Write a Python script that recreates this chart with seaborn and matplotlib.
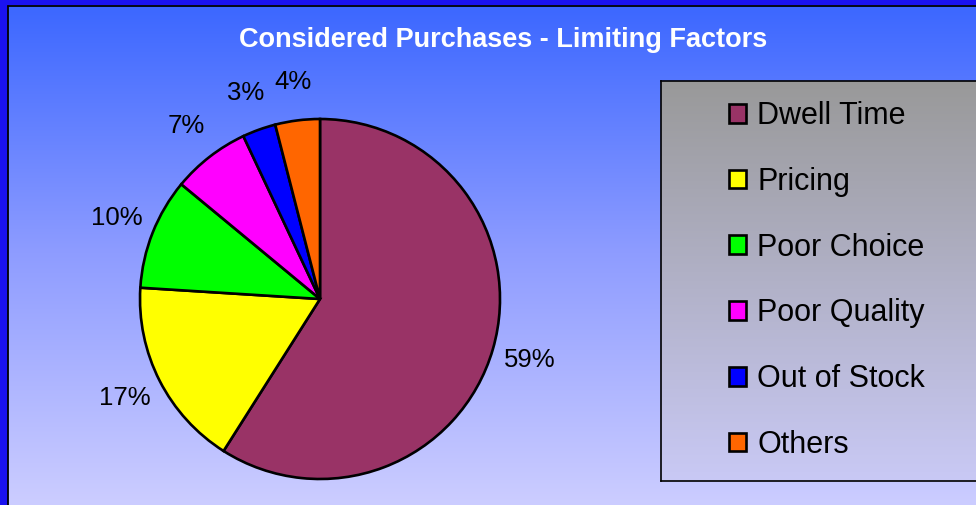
import numpy as np
import matplotlib
matplotlib.use("Agg")
import matplotlib.pyplot as plt
import seaborn as sns
from matplotlib.colors import LinearSegmentedColormap

# Survey shares of factors limiting considered purchases (percent)
categories = ["Dwell Time", "Pricing", "Poor Choice", "Poor Quality", "Out of Stock", "Others"]
shares = [59, 17, 10, 7, 3, 4]
slice_colors = ["#993366", "#FFFF00", "#00FF00", "#FF00FF", "#0000FF", "#FF6600"]
title_text = "Considered Purchases - Limiting Factors"

sns.set_theme(style="white")
plt.rcParams["font.family"] = ["Liberation Sans", "DejaVu Sans"]
plt.rcParams["text.color"] = "black"

W, H = 976, 505
fig = plt.figure(figsize=(W / 100, H / 100), dpi=100)

# Backdrop: vertical blue-to-lavender gradient with a blue frame on the left/top
bg = fig.add_axes([0, 0, 1, 1], zorder=-10)
bg.set_xlim(0, W)
bg.set_ylim(H, 0)
bg.axis("off")
bg_cmap = LinearSegmentedColormap.from_list("bg", ["#3a66ff", "#8e9cff", "#cccdff"])
grad = np.linspace(0, 1, 256).reshape(-1, 1)
bg.imshow(grad, cmap=bg_cmap, extent=[0, W, H, 0], aspect="auto", interpolation="bicubic")
bg.fill_between([0, 7.5], 0, H, color="#1a12f0", lw=0)
bg.fill_between([0, W], 0, 5.2, color="#1a12f0", lw=0)
bg.plot([8.2, 8.2], [6, H], color="black", lw=1.3)
bg.plot([8, W], [6, 6], color="black", lw=1.3)

fig.text(503 / W, 1 - 40 / H, title_text, color="white", fontsize=19.5,
         fontweight="bold", ha="center", va="center")

# Pie chart
ax = fig.add_axes([140 / W, (H - 479) / H, 360 / W, 360 / H])
wedges, _, pct_texts = ax.pie(
    shares, colors=slice_colors, startangle=90, counterclock=False,
    autopct=lambda p: f"{p:.0f}%", pctdistance=1.215,
    wedgeprops=dict(edgecolor="black", linewidth=1.9),
    textprops=dict(fontsize=18.5, color="black"),
)
ax.set_xlim(-1, 1)
ax.set_ylim(-1, 1)
ax.set_aspect("equal")
ax.axis("off")

# Legend panel with grey gradient fill
lax = fig.add_axes([661 / W, (H - 481) / H, (W - 661) / W + 0.02, 400 / H])
lax.set_xlim(0, 1)
lax.set_ylim(0, 1)
leg_cmap = LinearSegmentedColormap.from_list("leg", ["#c9c9f5", "#999999"])
lax.imshow(grad, cmap=leg_cmap, extent=[0, 1, 0, 1], aspect="auto",
           origin="lower", interpolation="bicubic")
lax.set_xticks([])
lax.set_yticks([])
for side in ["left", "top", "bottom"]:
    lax.spines[side].set_visible(True)
    lax.spines[side].set_color("black")
    lax.spines[side].set_linewidth(1.2)
lax.spines["right"].set_visible(False)

leg = lax.legend(
    wedges, categories, loc="upper left", frameon=False,
    bbox_to_anchor=(729 / W, 1 - 101 / H), bbox_transform=fig.transFigure,
    borderpad=0, borderaxespad=0, fontsize=22,
    handlelength=0.56, handleheight=0.56, handletextpad=0.36,
    labelspacing=1.17,
)
for t in leg.get_texts():
    t.set_color("black")

fig.savefig("out.png", dpi=100)
